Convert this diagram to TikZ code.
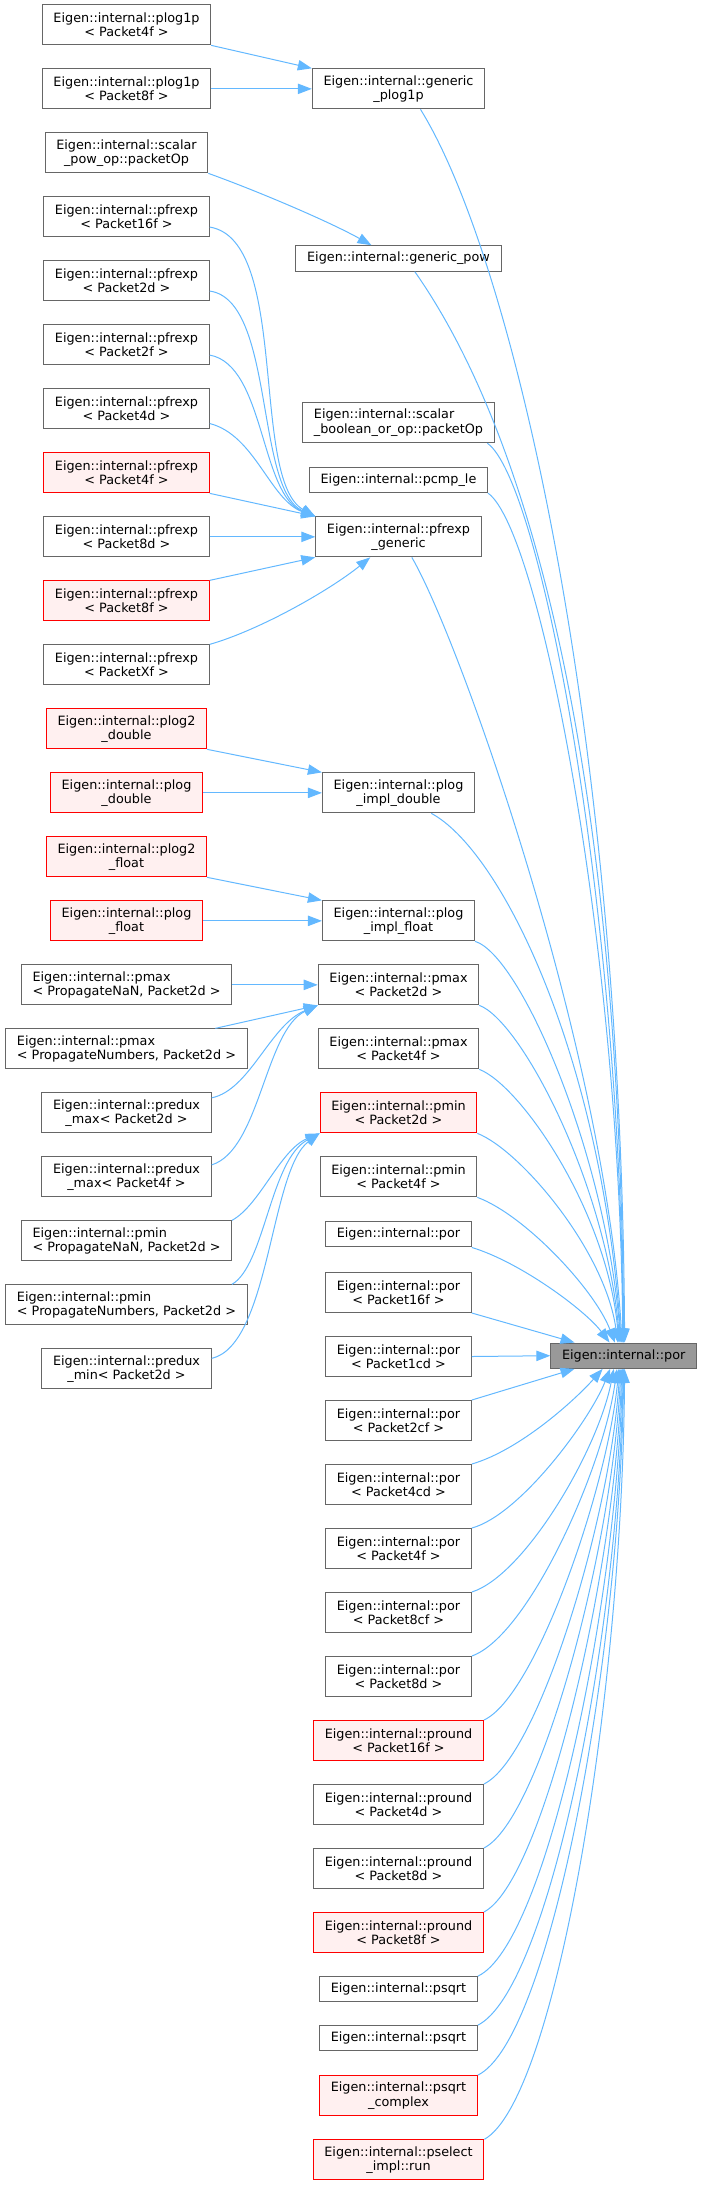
\documentclass[tikz,border=0pt]{standalone}
\usepackage{fontspec}
\setmainfont{DejaVu Sans}
\usepackage{xcolor}
\definecolor{callblue}{HTML}{63B8FF}
\definecolor{frame}{HTML}{666666}
\definecolor{cutline}{HTML}{FF0000}
\definecolor{cutfill}{HTML}{FFF0F0}
\definecolor{rootfill}{HTML}{999999}
\usepackage{tikz}
\usetikzlibrary{arrows.meta}

\begin{document}
\begin{tikzpicture}[
  x=0.75pt, y=-0.75pt,
  fn/.style={draw=frame, fill=white, line width=0.75pt, minimum height=30pt,
    inner xsep=8.4pt, inner ysep=1pt, align=center,
    font=\fontsize{9.6}{10.75}\selectfont},
  cut/.style={fn, draw=cutline, fill=cutfill},
  root/.style={fn, fill=rootfill},
  oneline/.style={minimum height=19pt},
  call/.style={draw=callblue, line width=0.75pt, -{Triangle[length=10.5pt, width=7.8pt]}}
]
  \useasboundingbox (0,0) rectangle (701,2185);

  % Left column
  \node[fn] (p1p4f) at (126.5,24.85) {Eigen::internal::plog1p\\< Packet4f >};
  \node[fn] (p1p8f) at (126.5,88.85) {Eigen::internal::plog1p\\< Packet8f >};
  \node[fn] (spow) at (126.5,152.85) {Eigen::internal::scalar\\\_pow\_op::packetOp};
  \node[fn] (pf16f) at (126.5,216.85) {Eigen::internal::pfrexp\\< Packet16f >};
  \node[fn] (pf2d) at (126.5,280.85) {Eigen::internal::pfrexp\\< Packet2d >};
  \node[fn] (pf2f) at (126.5,344.85) {Eigen::internal::pfrexp\\< Packet2f >};
  \node[fn] (pf4d) at (126.5,408.85) {Eigen::internal::pfrexp\\< Packet4d >};
  \node[cut] (pf4f) at (126.5,472.85) {Eigen::internal::pfrexp\\< Packet4f >};
  \node[fn] (pf8d) at (126.5,536.85) {Eigen::internal::pfrexp\\< Packet8d >};
  \node[cut] (pf8f) at (126.5,600.85) {Eigen::internal::pfrexp\\< Packet8f >};
  \node[fn] (pfXf) at (126.5,664.85) {Eigen::internal::pfrexp\\< PacketXf >};
  \node[cut] (pl2d) at (126.5,728.85) {Eigen::internal::plog2\\\_double};
  \node[cut] (pld) at (126.5,792.85) {Eigen::internal::plog\\\_double};
  \node[cut] (pl2f) at (126.5,856.85) {Eigen::internal::plog2\\\_float};
  \node[cut] (plf) at (126.5,920.85) {Eigen::internal::plog\\\_float};
  \node[fn, align=left] (pmaxnan) at (126.5,984.85) {Eigen::internal::pmax\\< PropagateNaN, Packet2d >};
  \node[fn, align=left] (pmaxnum) at (126.5,1048.85) {Eigen::internal::pmax\\< PropagateNumbers, Packet2d >};
  \node[fn] (rmax2d) at (126.5,1112.85) {Eigen::internal::predux\\\_max< Packet2d >};
  \node[fn] (rmax4f) at (126.5,1176.85) {Eigen::internal::predux\\\_max< Packet4f >};
  \node[fn, align=left] (pminnan) at (126.5,1240.85) {Eigen::internal::pmin\\< PropagateNaN, Packet2d >};
  \node[fn, align=left] (pminnum) at (126.5,1304.85) {Eigen::internal::pmin\\< PropagateNumbers, Packet2d >};
  \node[fn] (rmin2d) at (126.5,1368.85) {Eigen::internal::predux\\\_min< Packet2d >};

  % Middle column
  \node[fn] (gp1p) at (398.5,88.85) {Eigen::internal::generic\\\_plog1p};
  \node[fn, oneline] (gpow) at (398.5,258.4) {Eigen::internal::generic\_pow};
  \node[fn, align=left] (sbool) at (398.5,422.7) {Eigen::internal::scalar\\\_boolean\_or\_op::packetOp};
  \node[fn, oneline] (pcmple) at (398.5,480) {Eigen::internal::pcmp\_le};
  \node[fn] (pfgen) at (398.5,536.85) {Eigen::internal::pfrexp\\\_generic};
  \node[fn] (plogid) at (398.5,792.85) {Eigen::internal::plog\\\_impl\_double};
  \node[fn] (plogif) at (398.5,920.85) {Eigen::internal::plog\\\_impl\_float};
  \node[fn] (pmax2d) at (398.5,984.85) {Eigen::internal::pmax\\< Packet2d >};
  \node[fn] (pmax4f) at (398.5,1048.85) {Eigen::internal::pmax\\< Packet4f >};
  \node[cut] (pmin2d) at (398.5,1112.85) {Eigen::internal::pmin\\< Packet2d >};
  \node[fn] (pmin4f) at (398.5,1176.85) {Eigen::internal::pmin\\< Packet4f >};
  \node[fn, oneline] (por0) at (398.5,1234.3) {Eigen::internal::por};
  \node[fn] (por16f) at (398.5,1292.5) {Eigen::internal::por\\< Packet16f >};
  \node[fn] (por1cd) at (398.5,1356.5) {Eigen::internal::por\\< Packet1cd >};
  \node[fn] (por2cf) at (398.5,1420.5) {Eigen::internal::por\\< Packet2cf >};
  \node[fn] (por4cd) at (398.5,1484.5) {Eigen::internal::por\\< Packet4cd >};
  \node[fn] (por4f) at (398.5,1548.5) {Eigen::internal::por\\< Packet4f >};
  \node[fn] (por8cf) at (398.5,1612.5) {Eigen::internal::por\\< Packet8cf >};
  \node[fn] (por8d) at (398.5,1676.5) {Eigen::internal::por\\< Packet8d >};
  \node[cut] (prnd16f) at (398.5,1740.5) {Eigen::internal::pround\\< Packet16f >};
  \node[fn] (prnd4d) at (398.5,1804.5) {Eigen::internal::pround\\< Packet4d >};
  \node[fn] (prnd8d) at (398.5,1868.5) {Eigen::internal::pround\\< Packet8d >};
  \node[cut] (prnd8f) at (398.5,1932.5) {Eigen::internal::pround\\< Packet8f >};
  \node[fn, oneline] (psqrtA) at (398.5,1989.3) {Eigen::internal::psqrt};
  \node[fn, oneline] (psqrtB) at (398.5,2038.3) {Eigen::internal::psqrt};
  \node[cut] (psqrtc) at (398.5,2095.6) {Eigen::internal::psqrt\\\_complex};
  \node[cut] (psel) at (398.5,2159.8) {Eigen::internal::pselect\\\_impl::run};

  % Root
  \node[root, oneline] (por) at (623.7,1355.7) {Eigen::internal::por};

  % Left to middle
  \draw[call] (p1p4f.south east) -- (gp1p.north west);
  \draw[call] (p1p8f.east) -- (gp1p.west);
  \draw[call] (spow.south east) .. controls (260,192) and (330,222) .. (gpow.154);
  \draw[call] (pf16f.-7) .. controls (290,240) and (250,480) .. (pfgen.north west);
  \draw[call] (pf2d.-7) .. controls (275,300) and (255,490) .. (pfgen.north west);
  \draw[call] (pf2f.-7) .. controls (265,365) and (260,495) .. (pfgen.north west);
  \draw[call] (pf4d.-10) .. controls (255,435) and (270,500) .. (pfgen.north west);
  \draw[call] (pf4f.south east) -- (pfgen.north west);
  \draw[call] (pf8d.east) -- (pfgen.west);
  \draw[call] (pf8f.north east) -- (pfgen.south west);
  \draw[call] (pfXf.north east) .. controls (260,630) and (330,590) .. (pfgen.216);
  \draw[call] (pl2d.south east) -- (plogid.north west);
  \draw[call] (pld.east) -- (plogid.west);
  \draw[call] (pl2f.south east) -- (plogif.north west);
  \draw[call] (plf.east) -- (plogif.west);
  \draw[call] (pmaxnan.east) -- (pmax2d.west);
  \draw[call] (pmaxnum.13) -- (pmax2d.south west);
  \draw[call] (rmax2d.10) .. controls (250,1090) and (270,1025) .. (pmax2d.south west);
  \draw[call] (rmax4f.8) .. controls (260,1150) and (265,1030) .. (pmax2d.south west);
  \draw[call] (pminnan.11) .. controls (260,1205) and (280,1150) .. (pmin2d.south west);
  \draw[call] (pminnum.11) .. controls (265,1265) and (270,1160) .. (pmin2d.south west);
  \draw[call] (rmin2d.7) .. controls (270,1345) and (270,1170) .. (pmin2d.south west);

  % Middle to root, from above
  \draw[call] (gp1p.-43) .. controls (512,257) and (621,725) .. (por.86);
  \draw[call] (gpow.-39) .. controls (540,450) and (620,800) .. (por.90);
  \draw[call] (sbool.-13) .. controls (540,480) and (620,900) .. (por.92);
  \draw[call] (pcmple.south east) .. controls (540,530) and (620,950) .. (por.94);
  \draw[call] (pfgen.-57) .. controls (460,640) and (605,1050) .. (por.97);
  \draw[call] (plogid.-32) .. controls (500,850) and (600,1050) .. (por.100);
  \draw[call] (plogif.south east) .. controls (520,955) and (605,1150) .. (por.102);
  \draw[call] (pmax2d.south east) .. controls (520,1020) and (605,1180) .. (por.106);
  \draw[call] (pmax4f.south east) .. controls (520,1085) and (607,1210) .. (por.110);
  \draw[call] (pmin2d.south east) .. controls (520,1150) and (605,1250) .. (por.114);
  \draw[call] (pmin4f.south east) .. controls (525,1215) and (595,1290) .. (por.124);
  \draw[call] (por0.south east) .. controls (520,1262) and (585,1310) .. (por.137);
  \draw[call] (por16f.south east) -- (por.165);
  \draw[call] (por1cd.east) -- (por.west);

  % Middle to root, from below
  \draw[call] (por2cf.north east) -- (por.195);
  \draw[call] (por4cd.north east) .. controls (520,1450) and (575,1400) .. (por.212);
  \draw[call] (por4f.north east) .. controls (520,1515) and (590,1420) .. (por.224);
  \draw[call] (por8cf.north east) .. controls (525,1575) and (598,1450) .. (por.233);
  \draw[call] (por8d.north east) .. controls (528,1636) and (603,1470) .. (por.243);
  \draw[call] (prnd16f.north east) .. controls (535,1697) and (607,1490) .. (por.250);
  \draw[call] (prnd4d.north east) .. controls (538,1758) and (610,1520) .. (por.254);
  \draw[call] (prnd8d.north east) .. controls (540,1820) and (612,1550) .. (por.258);
  \draw[call] (prnd8f.north east) .. controls (542,1882) and (614,1580) .. (por.262);
  \draw[call] (psqrtA.north east) .. controls (545,1945) and (616,1610) .. (por.265);
  \draw[call] (psqrtB.north east) .. controls (548,1990) and (618,1640) .. (por.268);
  \draw[call] (psqrtc.north east) .. controls (550,2040) and (620,1660) .. (por.270);
  \draw[call] (psel.north east) .. controls (555,2100) and (622,1700) .. (por.274);

\end{tikzpicture}
\end{document}
